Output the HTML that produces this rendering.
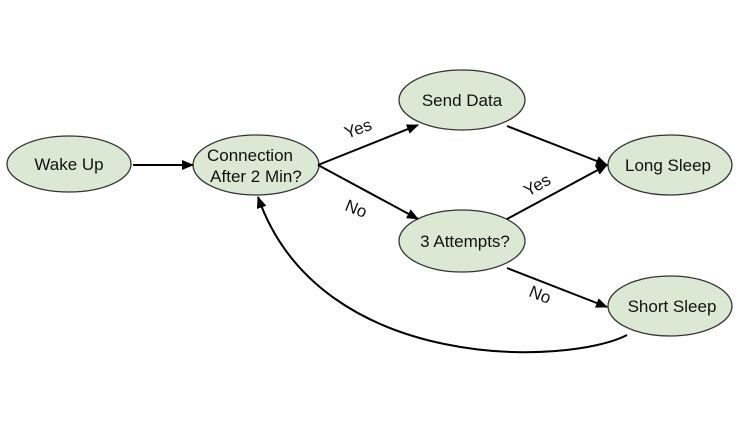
<!DOCTYPE html>
<html><head><meta charset="utf-8"><style>
html,body{margin:0;padding:0;background:#fff;width:740px;height:431px;overflow:hidden}
text{font-family:"Liberation Sans",Arial,sans-serif;font-size:17px;fill:#111}
</style></head><body>
<svg width="740" height="431" viewBox="0 0 740 431" xmlns="http://www.w3.org/2000/svg">
<defs><marker id="a" markerWidth="12" markerHeight="10" refX="11" refY="5" orient="auto" markerUnits="userSpaceOnUse"><path d="M0,0 L12,5 L0,10 z" fill="#000"/></marker></defs>
<g fill="#dbe8d3" stroke="#333" stroke-width="1.3">
<ellipse cx="69" cy="164" rx="62" ry="28"/>
<ellipse cx="256" cy="165" rx="63" ry="30"/>
<ellipse cx="462" cy="100" rx="63" ry="30"/>
<ellipse cx="670" cy="165" rx="62" ry="30"/>
<ellipse cx="462" cy="241" rx="63" ry="31"/>
<ellipse cx="670" cy="306" rx="62" ry="30"/>
</g>
<g stroke="#000" stroke-width="2" fill="none" marker-end="url(#a)">
<line x1="133" y1="165" x2="193" y2="165"/>
<line x1="318" y1="165" x2="418" y2="125"/>
<line x1="318" y1="165" x2="418" y2="219"/>
<line x1="507" y1="126" x2="607" y2="165"/>
<line x1="507" y1="219" x2="607" y2="165"/>
<line x1="507" y1="268" x2="607" y2="307"/>
<path d="M627,335 C570,365 320,375 258,197"/>
</g>
<text x="69" y="170" text-anchor="middle">Wake Up</text>
<text x="250" y="161" text-anchor="middle">Connection</text>
<text x="256" y="182" text-anchor="middle">After 2 Min?</text>
<text x="462" y="106" text-anchor="middle">Send Data</text>
<text x="668" y="171" text-anchor="middle">Long Sleep</text>
<text x="465" y="247" text-anchor="middle">3 Attempts?</text>
<text x="672" y="312" text-anchor="middle">Short Sleep</text>
<text transform="translate(360,134) rotate(-20)" text-anchor="middle">Yes</text>
<text transform="translate(354,214) rotate(22)" text-anchor="middle">No</text>
<text transform="translate(540,190) rotate(-30)" text-anchor="middle">Yes</text>
<text transform="translate(538,300) rotate(22)" text-anchor="middle">No</text>
</svg>
</body></html>
